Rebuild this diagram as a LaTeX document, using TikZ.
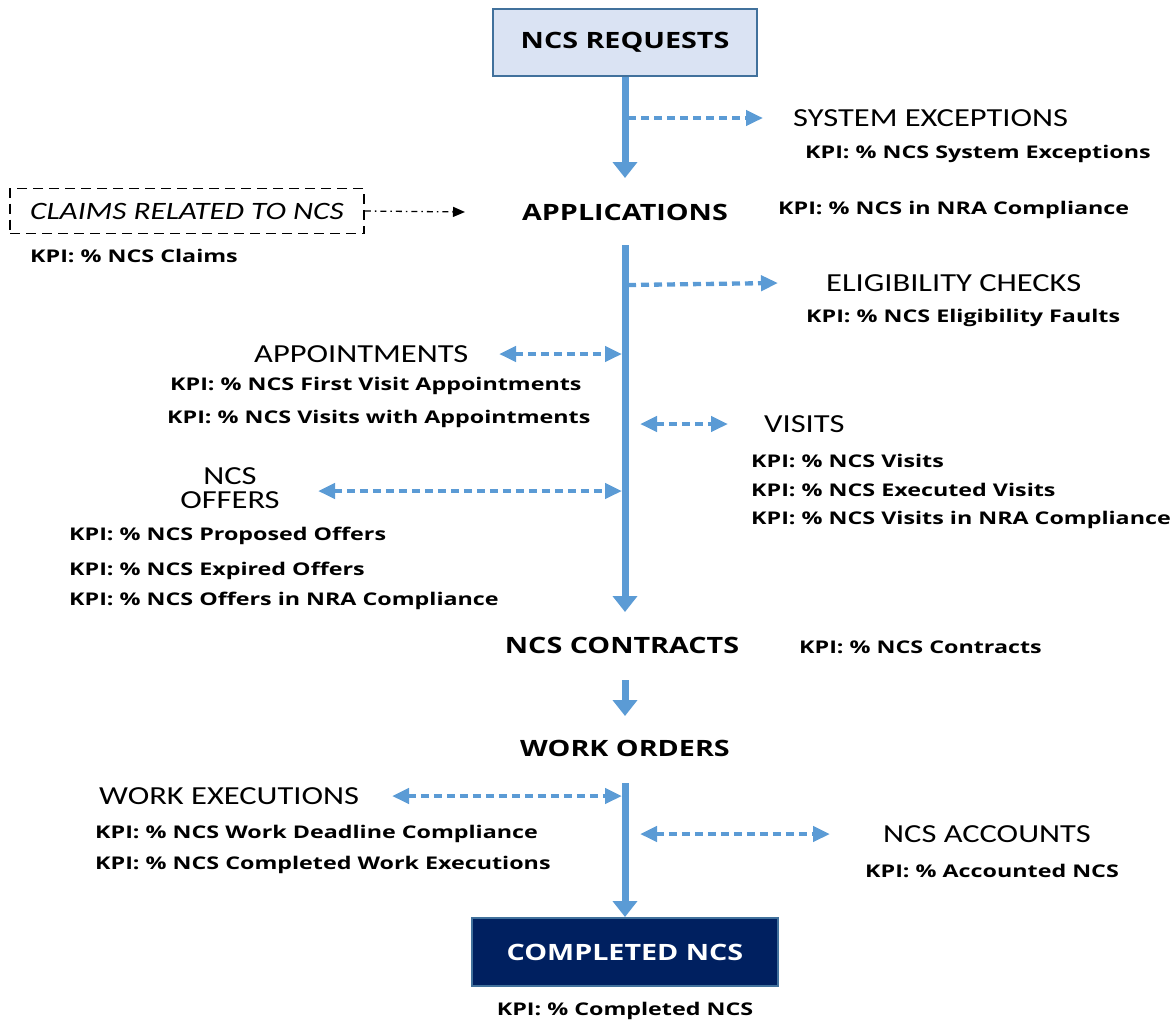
\documentclass[tikz,border=0pt]{standalone}
\usepackage{fontspec}
\setmainfont{Open Sans}[FakeStretch=1.275]
\newfontfamily\kpifont{Open Sans}[FakeStretch=1.33]
\newfontfamily\lblfont{Carlito}[FakeStretch=1.25]
\usetikzlibrary{arrows.meta}
\definecolor{lineblue}{HTML}{5B9BD5}
\definecolor{boxfill}{HTML}{DAE3F3}
\definecolor{boxline}{HTML}{41719C}
\definecolor{navy}{HTML}{002060}
\tikzset{
  ttl/.style={font=\bfseries\fontsize{22.5}{26}\selectfont, inner sep=0pt},
  lbl/.style={font=\lblfont\fontsize{26}{30}\selectfont, inner sep=0pt, anchor=west},
  kpi/.style={font=\kpifont\bfseries\fontsize{17.5}{21}\selectfont, inner sep=0pt, anchor=west},
  flow/.style={line width=7pt, draw=lineblue, -{Triangle[width=24pt,length=16pt,fill=lineblue]}},
  side/.style={line width=4.3pt, draw=lineblue, dash pattern=on 8pt off 5pt,
    -{Triangle[width=15pt,length=17pt,fill=lineblue]}},
  both/.style={side, {Triangle[width=15pt,length=17pt,fill=lineblue]}-{Triangle[width=15pt,length=17pt,fill=lineblue]}},
}
\begin{document}
\begin{tikzpicture}[x=1pt,y=-1pt]
\useasboundingbox (0,0) rectangle (1174,1023);

% 主流程节点
\node[ttl, draw=boxline, line width=2pt, fill=boxfill, minimum width=264pt, minimum height=67pt] (req) at (625,42) {NCS REQUESTS};
\node[ttl] (app) at (625,212) {APPLICATIONS};
\node[ttl] (con) at (622,645) {NCS CONTRACTS};
\node[ttl] (wo) at (625,748) {WORK ORDERS};
\node[ttl, draw=boxline, line width=2pt, fill=navy, text=white, minimum width=306pt, minimum height=68pt] (done) at (625,952) {COMPLETED NCS};
\node[kpi, anchor=center] (kdone) at (625,1011) {KPI: \% Completed NCS};

% 主干上的点
\foreach \name/\y in {s1/118, s2/285, s3/354, s4/424, s5/491, s6/796, s7/834} {
  \coordinate (\name) at (625,\y);
}
\coordinate (t1) at (625,178);
\coordinate (b2) at (625,245);
\coordinate (t2) at (625,612);
\coordinate (b3) at (625,680);
\coordinate (t3) at (625,716);
\coordinate (b4) at (625,783);

% 主干箭头
\draw[flow] (req.south) -- (t1);
\draw[flow] (b2) -- (t2);
\draw[flow] (b3) -- (t3);
\draw[flow] (b4) -- (done.north);

% 右侧标签
\node[lbl] (sys) at (793,118) {SYSTEM EXCEPTIONS};
\node[lbl] (elig) at (826,283) {ELIGIBILITY CHECKS};
\node[lbl] (vis) at (764,424) {VISITS};
\node[lbl] (acc) at (883,834) {NCS ACCOUNTS};
\node[kpi] (ksys) at (805,154) {KPI: \% NCS System Exceptions};
\node[kpi] (kapp) at (778,210) {KPI: \% NCS in NRA Compliance};
\node[kpi] (kelig) at (806,318) {KPI: \% NCS Eligibility Faults};
\node[kpi] (kcon) at (799,647) {KPI: \% NCS Contracts};
\node[kpi] (kacc) at (865,871) {KPI: \% Accounted NCS};
\foreach \y/\txt in {461/Visits, 490/Executed Visits, 520/Visits in NRA Compliance} {
  \node[kpi] (kvis\y) at (751,\y) {KPI: \% NCS \txt};
}

% 左侧标签
\node[lbl] (appt) at (254,354) {APPOINTMENTS};
\node[lbl, anchor=center, align=center, font=\lblfont\fontsize{26}{24}\selectfont] (off) at (230,488) {NCS\\OFFERS};
\node[lbl] (wex) at (99,796) {WORK EXECUTIONS};
\node[kpi] (kappt1) at (170,386) {KPI: \% NCS First Visit Appointments};
\node[kpi] (kappt2) at (167,419) {KPI: \% NCS Visits with Appointments};
\foreach \y/\txt in {536/Proposed Offers, 571/Expired Offers, 601/Offers in NRA Compliance} {
  \node[kpi] (koff\y) at (69,\y) {KPI: \% NCS \txt};
}
\node[kpi] (kwex1) at (95,834) {KPI: \% NCS Work Deadline Compliance};
\node[kpi] (kwex2) at (95,865) {KPI: \% NCS Completed Work Executions};

% 投诉框
\node[draw, line width=1.8pt, dash pattern=on 10pt off 6pt, minimum width=354pt, minimum height=45pt,
  font=\lblfont\itshape\fontsize{25}{29}\selectfont] (clm) at (187,211) {CLAIMS RELATED TO NCS};
\node[kpi] (kclm) at (30,256) {KPI: \% NCS Claims};
\draw[line width=1.3pt, dash pattern=on 6pt off 4pt on 1.5pt off 4pt, -{Triangle[width=10pt,length=12pt]}]
  (clm.east) -- ([xshift=-57pt]app.west);

% 虚线箭头
\draw[side] ([xshift=3pt]s1) -- ([xshift=-30pt]sys.west);
\draw[side] ([xshift=3pt]s2) -- ([xshift=-48pt]elig.west);
\draw[both] ([xshift=-126pt]s3) -- ([xshift=-3pt]s3);
\draw[both] ([xshift=15pt]s4) -- ([xshift=-36pt]vis.west);
\draw[both] ([xshift=-307pt]s5) -- ([xshift=-3pt]s5);
\draw[both] ([xshift=-233pt]s6) -- ([xshift=-3pt]s6);
\draw[both] ([xshift=15pt]s7) -- ([xshift=-53pt]acc.west);
\end{tikzpicture}
\end{document}
